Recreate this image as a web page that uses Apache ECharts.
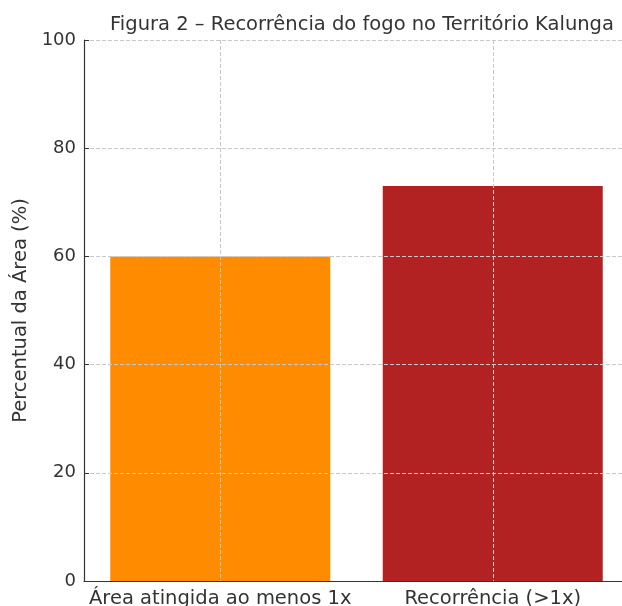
<!DOCTYPE html>
<html>
<head>
<meta charset="utf-8">
<script src="https://cdn.jsdelivr.net/npm/echarts@6/dist/echarts.min.js"></script>
<style>
  html, body { margin: 0; padding: 0; background: #fff; overflow: hidden; }
  /* plot area runs slightly past the right edge, as in the reference */
  #chart { width: 629px; height: 606px; }
</style>
</head>
<body>
<div id="chart"></div>
<script>
var titleText = 'Figura 2 – Recorrência do fogo no Território Kalunga'
var yName = 'Percentual da Área (%)'
var categories = ['Área atingida ao menos 1x', 'Recorrência (>1x)']
var values = [60, 73]
var barColors = ['#FF8C00', '#B22222']
var yTicks = [0, 20, 40, 60, 80, 100]

var font = '"DejaVu Sans", sans-serif'
var chart = echarts.init(document.getElementById('chart'))

chart.setOption({
    animation: false,
    title: {
        text: titleText,
        left: 357,
        textAlign: 'center',
        top: 10,
        textStyle: { fontFamily: font, fontSize: 19.5, fontWeight: 'normal', color: '#333' }
    },
    grid: { left: 84, top: 40, right: 0, bottom: 25, containLabel: false, outerBoundsMode: 'none' },
    xAxis: {
        type: 'category',
        data: categories,
        axisLine: { lineStyle: { color: '#333', width: 1.2 } },
        axisTick: { inside: true, length: 5, alignWithLabel: true, lineStyle: { color: '#333' } },
        splitLine: { show: true, alignWithLabel: true, lineStyle: { type: 'dashed', color: '#c8c8c8' } },
        axisLabel: { interval: 0, fontFamily: font, fontSize: 19.5, color: '#333', margin: 8 }
    },
    yAxis: {
        type: 'value',
        min: yTicks[0],
        max: yTicks[yTicks.length - 1],
        interval: yTicks[1] - yTicks[0],
        name: yName,
        nameLocation: 'middle',
        nameGap: 50,
        nameTextStyle: { fontFamily: font, fontSize: 19.5, color: '#333' },
        axisLine: { show: true, lineStyle: { color: '#333', width: 1.2 } },
        axisTick: { show: true, inside: true, length: 5, lineStyle: { color: '#333' } },
        splitLine: { lineStyle: { type: 'dashed', color: '#c8c8c8' } },
        axisLabel: { fontFamily: font, fontSize: 18, color: '#333', margin: 8 }
    },
    series: [{
        type: 'bar',
        z: -1,
        barWidth: 220,
        data: values.map(function (v, i) {
            return { value: v, itemStyle: { color: barColors[i] } }
        })
    }]
})
</script>
</body>
</html>
